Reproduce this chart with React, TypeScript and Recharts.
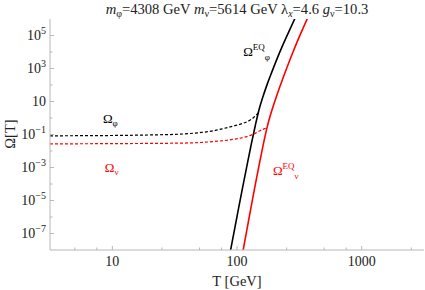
import React from 'react';
import { LineChart, Line, XAxis, YAxis, ReferenceDot } from 'recharts';

// Omega_phi (dashed black)
const phiT = [3.16, 6, 11.5, 20, 35, 50, 64, 76, 88, 100, 110, 120, 130, 139, 148];
const phiOmega = [0.083, 0.085, 0.088, 0.094, 0.105, 0.13, 0.165, 0.22, 0.29, 0.37, 0.46, 0.59, 0.82, 1.25, 2.0];

// Omega_nu (dashed red)
const nuT = [3.16, 10, 35, 64, 85, 106, 120, 131, 142, 153, 165, 173];
const nuOmega = [0.027, 0.028, 0.03, 0.037, 0.046, 0.06, 0.075, 0.095, 0.125, 0.17, 0.22, 0.25];

// Omega^EQ_phi (solid black)
const eqPhiT = [86, 100, 110, 120, 130, 140, 148, 160, 175, 190, 210, 230, 260, 290, 320];
const eqPhiOmega = [2.8e-9, 1.1e-6, 4.6e-5, 1.26e-3, 0.025, 0.34, 2.1, 16, 117, 600, 4100, 2.1e4, 1.66e5, 1e6, 4.8e6];

// Omega^EQ_nu (solid red)
const eqNuT = [110, 120, 130, 140, 150, 160, 173, 185, 200, 220, 245, 275, 310, 340, 370, 400];
const eqNuOmega = [4.8e-9, 1.7e-7, 4.6e-6, 8.9e-5, 1.3e-3, 0.0145, 0.22, 1.45, 9.3, 76, 690, 6600, 6e4, 3e5, 1.26e6, 4.6e6];

const xMajor = [10, 100, 1000];
const xMinor = [5, 7.5, 25, 50, 75, 250, 500, 750, 2500];
const yMajor = [1e-7, 1e-5, 1e-3, 1e-1, 10, 1e3, 1e5];
const yMinor = [1e-6, 1e-4, 1e-2, 1, 100, 1e4];

const xDomain = [3.16, 3160];
const yDomain = [1e-8, 1e6];

const toRows = (ts: number[], vs: number[]) => ts.map((T, i) => ({ T, v: vs[i] }));

const FONT = '"Liberation Serif", "Times New Roman", serif';
const FRAME = '#b8b8b8';
const TXT = '#222';
const RED = '#ff0000';

const XTick = (props: any) => {
  const { x, y, payload } = props;
  const major = xMajor.includes(payload.value);
  return (
    <g>
      <line x1={x} x2={x} y1={y} y2={y - (major ? 4 : 2.5)} stroke={FRAME} />
      {major && (
        <text x={x} y={y + 16} textAnchor="middle" fontSize={14} fontFamily={FONT} fill={TXT}>
          {payload.value}
        </text>
      )}
    </g>
  );
};

const YTick = (props: any) => {
  const { x, y, payload } = props;
  const v = payload.value;
  const major = yMajor.includes(v);
  const exp = Math.round(Math.log10(v));
  return (
    <g>
      <line x1={x} x2={x + (major ? 4 : 2.5)} y1={y} y2={y} stroke={FRAME} />
      {major && (
        <text x={x - 4} y={y + 4.5} textAnchor="end" fontSize={14} fontFamily={FONT} fill={TXT}>
          10
          {exp !== 1 && (
            <tspan dy={-6} fontSize={10}>
              {exp < 0 ? '\u2212' + -exp : exp}
            </tspan>
          )}
        </text>
      )}
    </g>
  );
};

const label = (parts: React.ReactNode, color: string) => (p: any) => (
  <text x={p.cx} y={p.cy} fontSize={13} fontFamily={FONT} fill={color}>
    {parts}
  </text>
);

export default function App() {
  return (
    <div style={{ position: 'absolute', left: 0, top: 0, width: 425, height: 290, background: '#fff' }}>
      <LineChart width={425} height={290} margin={{ top: 19, right: 1, left: 0, bottom: 0 }}>
        <XAxis
          dataKey="T"
          type="number"
          scale="log"
          domain={xDomain}
          allowDataOverflow
          ticks={[...xMajor, ...xMinor]}
          interval={0}
          height={40}
          tickSize={0}
          tickMargin={0}
          tickLine={false}
          axisLine={{ stroke: FRAME }}
          tick={<XTick />}
        />
        <XAxis
          xAxisId="top"
          orientation="top"
          type="number"
          scale="log"
          domain={xDomain}
          allowDataOverflow
          height={0}
          tick={false}
          tickLine={false}
          axisLine={{ stroke: FRAME }}
        />
        <YAxis
          type="number"
          scale="log"
          domain={yDomain}
          allowDataOverflow
          ticks={[...yMajor, ...yMinor]}
          interval={0}
          width={50}
          tickSize={0}
          tickMargin={0}
          tickLine={false}
          axisLine={{ stroke: FRAME }}
          tick={<YTick />}
        />
        <YAxis
          yAxisId="right"
          orientation="right"
          type="number"
          scale="log"
          domain={yDomain}
          allowDataOverflow
          width={0}
          tick={false}
          tickLine={false}
          axisLine={{ stroke: FRAME }}
        />
        <Line data={toRows(eqPhiT, eqPhiOmega)} dataKey="v" type="monotone" stroke="#000" strokeWidth={1.6} dot={false} isAnimationActive={false} />
        <Line data={toRows(eqNuT, eqNuOmega)} dataKey="v" type="monotone" stroke={RED} strokeWidth={1.6} dot={false} isAnimationActive={false} />
        <Line data={toRows(phiT, phiOmega)} dataKey="v" type="monotone" stroke="#000" strokeWidth={1.2} strokeDasharray="3 2" dot={false} isAnimationActive={false} />
        <Line data={toRows(nuT, nuOmega)} dataKey="v" type="monotone" stroke={RED} strokeWidth={1.2} strokeDasharray="3 2" dot={false} isAnimationActive={false} />
        <ReferenceDot
          x={8.4}
          y={0.51}
          r={0}
          shape={label(<><tspan>Ω</tspan><tspan dy={3} fontSize={9}>φ</tspan></>, '#000')}
        />
        <ReferenceDot
          x={8.7}
          y={5.4e-4}
          r={0}
          shape={label(<><tspan>Ω</tspan><tspan dy={3} fontSize={9}>ν</tspan></>, RED)}
        />
        <ReferenceDot
          x={112}
          y={5900}
          r={0}
          shape={label(<><tspan>Ω</tspan><tspan dy={-6} fontSize={9}>EQ</tspan><tspan dy={10} fontSize={9}>φ</tspan></>, '#000')}
        />
        <ReferenceDot
          x={194}
          y={3.5e-4}
          r={0}
          shape={label(<><tspan>Ω</tspan><tspan dy={-6} fontSize={9}>EQ</tspan><tspan dy={10} fontSize={9}>ν</tspan></>, RED)}
        />
      </LineChart>
      <svg width={425} height={290} style={{ position: 'absolute', left: 0, top: 0, pointerEvents: 'none' }}>
        <text x={237} y={14} textAnchor="middle" fontSize={14.6} fontFamily={FONT} fill={TXT}>
          <tspan fontStyle="italic">m</tspan>
          <tspan dy={3} fontSize={10}>φ</tspan>
          <tspan dy={-3}>=4308 GeV </tspan>
          <tspan fontStyle="italic">m</tspan>
          <tspan dy={3} fontSize={10}>ν</tspan>
          <tspan dy={-3}>=5614 GeV λ</tspan>
          <tspan dy={3} fontSize={10} fontStyle="italic">x</tspan>
          <tspan dy={-3}>=4.6 </tspan>
          <tspan fontStyle="italic">g</tspan>
          <tspan dy={3} fontSize={10}>ν</tspan>
          <tspan dy={-3}>=10.3</tspan>
        </text>
        <text x={237} y={286} textAnchor="middle" fontSize={14.5} fontFamily={FONT} fill={TXT}>
          T [GeV]
        </text>
        <text x={15} y={134} textAnchor="middle" fontSize={14.5} fontFamily={FONT} fill={TXT} transform="rotate(-90 15 134)">
          Ω[T]
        </text>
      </svg>
    </div>
  );
}
